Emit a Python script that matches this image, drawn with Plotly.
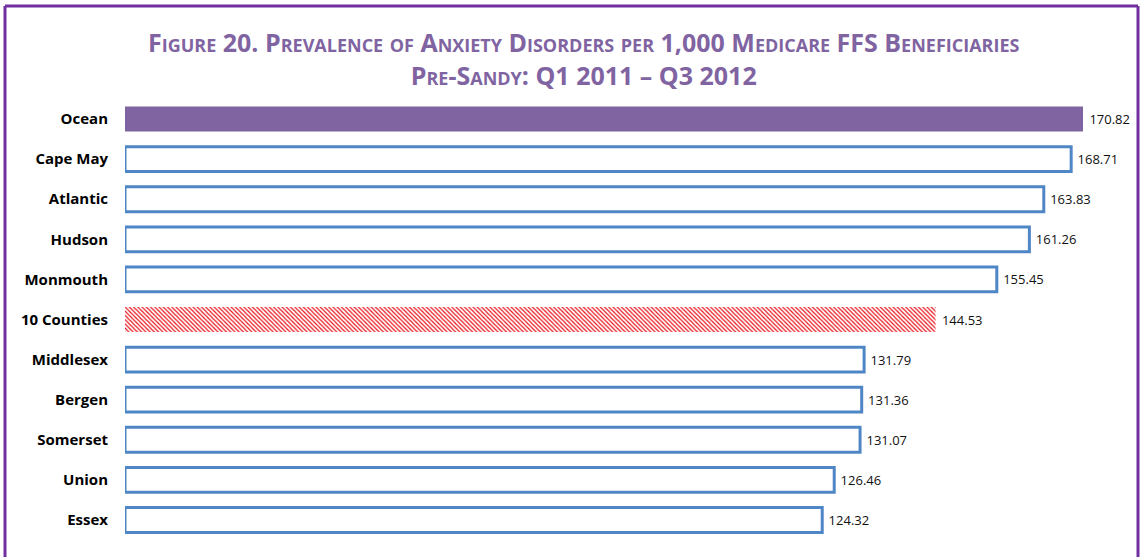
import plotly.graph_objects as go

# prevalence per 1,000 beneficiaries, pre-Sandy
counties = ["Ocean", "Cape May", "Atlantic", "Hudson", "Monmouth", "10 Counties",
            "Middlesex", "Bergen", "Somerset", "Union", "Essex"]
values = [170.82, 168.71, 163.83, 161.26, 155.45, 144.53,
          131.79, 131.36, 131.07, 126.46, 124.32]

PURPLE = "#8064A2"
BLUE = "#4F86C6"
RED = "#E8141B"

solid_y, solid_x, fills, lines, line_w = [], [], [], [], []
hatch_y, hatch_x = [], []
for c, v in zip(counties, values):
    if c == "10 Counties":
        hatch_y.append(c); hatch_x.append(v)
        continue
    solid_y.append(c); solid_x.append(v)
    if c == "Ocean":
        fills.append(PURPLE); lines.append(PURPLE); line_w.append(0)
    else:
        fills.append("white"); lines.append(BLUE); line_w.append(3)


def labels(vals):
    return ["\u00a0" + f"{v:.2f}" for v in vals]


fig = go.Figure()
fig.add_trace(go.Bar(
    x=solid_x, y=solid_y, orientation="h", width=0.62,
    marker=dict(color=fills, line=dict(color=lines, width=line_w)),
    text=labels(solid_x), textposition="outside",
    textfont=dict(size=13, color="#111111", family="Open Sans"),
    cliponaxis=False, hoverinfo="skip", showlegend=False,
))
fig.add_trace(go.Bar(
    x=hatch_x, y=hatch_y, orientation="h", width=0.62,
    marker=dict(color="white", line=dict(width=0),
                pattern=dict(shape="\\", fgcolor=RED, bgcolor="white",
                             size=3, solidity=0.4, fillmode="replace")),
    text=labels(hatch_x), textposition="outside",
    textfont=dict(size=13, color="#111111", family="Open Sans"),
    cliponaxis=False, hoverinfo="skip", showlegend=False,
))

# plot area in pixels: x 125..1130, y 99..540
L, R, T, B = 125, 12, 99, 17
W, H = 1142 - L - R, 557 - T - B


def px(xp):
    return (xp - L) / W


def py(yp):
    return (557 - B - yp) / H


border = dict(color="#7030A0", width=3)
fig.add_shape(type="line", xref="paper", yref="paper",
              x0=px(5), x1=px(1138), y0=py(6), y1=py(6), line=border)
fig.add_shape(type="line", xref="paper", yref="paper",
              x0=px(5), x1=px(5), y0=py(6), y1=py(570), line=border)
fig.add_shape(type="line", xref="paper", yref="paper",
              x0=px(1138), x1=px(1138), y0=py(6), y1=py(570), line=border)

fig.add_annotation(
    text="Figure 20. Prevalence of Anxiety Disorders per 1,000 Medicare FFS Beneficiaries"
         "<br>Pre-Sandy: Q1 2011 – Q3 2012",
    xref="paper", yref="paper", x=px(584), y=py(58),
    xanchor="center", yanchor="middle", showarrow=False,
    font=dict(family="Open Sans", size=25, color=PURPLE, weight="bold",
              variant="small-caps"),
)

fig.update_layout(
    width=1142,
    height=557,
    margin=dict(l=L, r=R, t=T, b=B),
    paper_bgcolor="white",
    plot_bgcolor="white",
    barmode="overlay",
    xaxis=dict(range=[0, W / (958 / 170.82)], visible=False, fixedrange=True),
    yaxis=dict(categoryorder="array", categoryarray=counties, autorange="reversed",
               showline=False, showgrid=False, ticks="", ticklabelstandoff=16,
               tickfont=dict(family="Open Sans", size=15, color="black", weight="bold")),
)

fig.write_html("out.html", config={"displayModeBar": False},
               post_script="document.body.style.margin='0';")
